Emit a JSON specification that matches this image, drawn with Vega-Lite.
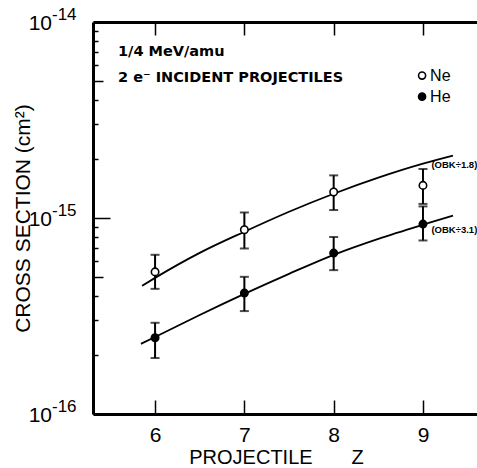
{
  "$schema": "https://vega.github.io/schema/vega-lite/v6.json",
  "autosize": "none",
  "width": 384,
  "height": 392,
  "padding": {"left": 93, "top": 22, "right": 0, "bottom": 54},
  "config": {
    "view": {"stroke": null},
    "font": "Liberation Sans",
    "axis": {"grid": false, "domainColor": "black", "tickColor": "black", "labelColor": "black", "titleColor": "black"}
  },
  "datasets": {
    "curves": [
      {"ion": "Ne", "z": 5.854, "sigma": 4.51e-16},
      {"ion": "Ne", "z": 6.0, "sigma": 4.95e-16},
      {"ion": "Ne", "z": 6.5, "sigma": 6.64e-16},
      {"ion": "Ne", "z": 7.0, "sigma": 8.51e-16},
      {"ion": "Ne", "z": 7.5, "sigma": 1.076e-15},
      {"ion": "Ne", "z": 8.0, "sigma": 1.33e-15},
      {"ion": "Ne", "z": 8.5, "sigma": 1.606e-15},
      {"ion": "Ne", "z": 9.0, "sigma": 1.893e-15},
      {"ion": "Ne", "z": 9.336, "sigma": 2.08e-15},
      {"ion": "He", "z": 5.842, "sigma": 2.28e-16},
      {"ion": "He", "z": 6.0, "sigma": 2.47e-16},
      {"ion": "He", "z": 6.5, "sigma": 3.2e-16},
      {"ion": "He", "z": 7.0, "sigma": 4.1e-16},
      {"ion": "He", "z": 7.5, "sigma": 5.19e-16},
      {"ion": "He", "z": 8.0, "sigma": 6.49e-16},
      {"ion": "He", "z": 8.5, "sigma": 7.83e-16},
      {"ion": "He", "z": 9.0, "sigma": 9.24e-16},
      {"ion": "He", "z": 9.336, "sigma": 1.027e-15}
    ],
    "measured": [
      {"ion": "Ne", "z": 6, "sigma": 5.31e-16, "lo": 4.35e-16, "hi": 6.49e-16},
      {"ion": "Ne", "z": 7, "sigma": 8.71e-16, "lo": 6.99e-16, "hi": 1.067e-15},
      {"ion": "Ne", "z": 8, "sigma": 1.357e-15, "lo": 1.098e-15, "hi": 1.65e-15},
      {"ion": "Ne", "z": 9, "sigma": 1.467e-15, "lo": 1.18e-15, "hi": 1.778e-15},
      {"ion": "He", "z": 6, "sigma": 2.45e-16, "lo": 1.93e-16, "hi": 2.92e-16},
      {"ion": "He", "z": 7, "sigma": 4.14e-16, "lo": 3.35e-16, "hi": 5.01e-16},
      {"ion": "He", "z": 8, "sigma": 6.62e-16, "lo": 5.42e-16, "hi": 8.0e-16},
      {"ion": "He", "z": 9, "sigma": 9.31e-16, "lo": 7.68e-16, "hi": 1.146e-15}
    ],
    "decades": [
      {"z": 5.305, "sigma": 1e-14, "base": "10", "power": "-14"},
      {"z": 5.305, "sigma": 1e-15, "base": "10", "power": "-15"},
      {"z": 5.305, "sigma": 1e-16, "base": "10", "power": "-16"}
    ],
    "key": [
      {"ion": "Ne", "z": 8.99, "sigma": 5.33e-15},
      {"ion": "He", "z": 8.99, "sigma": 4.16e-15}
    ],
    "headings": [
      {"label": "1/4 MeV/amu", "z": 5.585, "sigma": 6.99e-15},
      {"label": "2 e⁻ INCIDENT PROJECTILES", "z": 5.585, "sigma": 5.2e-15}
    ],
    "scaling": [
      {"label": "(OBK÷1.8)", "z": 9.095, "sigma": 1.87e-15},
      {"label": "(OBK÷3.1)", "z": 9.095, "sigma": 8.71e-16}
    ]
  },
  "resolve": {"axis": {"x": "independent", "y": "independent"}},
  "layer": [
    {
      "data": {"name": "curves"},
      "mark": {"type": "line", "interpolate": "monotone", "color": "black", "strokeWidth": 1.8},
      "encoding": {
        "x": {
          "field": "z", "type": "quantitative",
          "scale": {"domain": [5.305, 9.605], "nice": false, "zero": false},
          "axis": {
            "orient": "bottom", "values": [6, 7, 8, 9], "tickSize": -14, "tickWidth": 1.5,
            "domainWidth": 3, "labelFontSize": 21, "labelPadding": 24, "labelFont": "Liberation Sans",
            "title": "PROJECTILE\u00a0\u00a0\u00a0\u00a0\u00a0\u00a0\u00a0Z", "titleFontSize": 20, "titleFontWeight": "normal",
            "titleFont": "Liberation Sans", "titleX": 183, "titleY": 49, "titleAlign": "center", "titleBaseline": "alphabetic"
          }
        },
        "y": {
          "field": "sigma", "type": "quantitative",
          "scale": {"type": "log", "domain": [1e-16, 1e-14], "nice": false},
          "axis": {
            "orient": "left",
            "values": [1e-16, 2e-16, 3e-16, 4e-16, 5e-16, 6e-16, 7e-16, 8e-16, 9e-16, 1e-15, 2e-15, 3e-15, 4e-15, 5e-15, 6e-15, 7e-15, 8e-15, 9e-15, 1e-14],
            "tickSize": {"condition": [
              {"test": "abs(log(datum.value)/LN10 - round(log(datum.value)/LN10)) < 0.001", "value": -17},
              {"test": "abs(datum.value / pow(10, floor(log(datum.value)/LN10 + 0.0001)) - 5) < 0.01", "value": -10}
            ], "value": -5},
            "tickWidth": 1.5, "domainWidth": 3, "labels": false,
            "title": "CROSS SECTION (cm²)", "titleFontSize": 21, "titleFontWeight": "normal",
            "titleFont": "Liberation Sans", "titleX": -70, "titleY": 196, "titleAngle": 270,
            "titleAlign": "center", "titleBaseline": "middle"
          }
        },
        "detail": {"field": "ion"}
      }
    },
    {
      "data": {"name": "measured"},
      "mark": {"type": "rule", "color": "black", "strokeWidth": 2},
      "encoding": {
        "x": {
          "field": "z", "type": "quantitative",
          "scale": {"domain": [5.305, 9.605], "nice": false, "zero": false},
          "axis": {"orient": "top", "values": [6, 7, 8, 9], "tickSize": -13, "tickWidth": 1.5, "domainWidth": 3, "labels": false, "title": null}
        },
        "y": {"field": "lo", "type": "quantitative", "scale": {"type": "log", "domain": [1e-16, 1e-14], "nice": false}, "axis": null},
        "y2": {"field": "hi"}
      }
    },
    {
      "data": {"name": "measured"},
      "mark": {"type": "tick", "orient": "horizontal", "color": "black", "size": 9, "thickness": 2},
      "encoding": {
        "x": {"field": "z", "type": "quantitative", "scale": {"domain": [5.305, 9.605], "nice": false, "zero": false}, "axis": null},
        "y": {"field": "lo", "type": "quantitative", "scale": {"type": "log", "domain": [1e-16, 1e-14], "nice": false}, "axis": null}
      }
    },
    {
      "data": {"name": "measured"},
      "mark": {"type": "tick", "orient": "horizontal", "color": "black", "size": 9, "thickness": 2},
      "encoding": {
        "x": {"field": "z", "type": "quantitative", "scale": {"domain": [5.305, 9.605], "nice": false, "zero": false}, "axis": null},
        "y": {"field": "hi", "type": "quantitative", "scale": {"type": "log", "domain": [1e-16, 1e-14], "nice": false}, "axis": null}
      }
    },
    {
      "data": {"name": "measured"},
      "mark": {"type": "point", "shape": "circle", "size": 55, "stroke": "black", "strokeWidth": 1.6, "opacity": 1},
      "encoding": {
        "x": {"field": "z", "type": "quantitative", "scale": {"domain": [5.305, 9.605], "nice": false, "zero": false}, "axis": null},
        "y": {"field": "sigma", "type": "quantitative", "scale": {"type": "log", "domain": [1e-16, 1e-14], "nice": false}, "axis": null},
        "fill": {"field": "ion", "type": "nominal", "scale": {"domain": ["Ne", "He"], "range": ["white", "black"]}, "legend": null}
      }
    },
    {
      "data": {"name": "decades"},
      "mark": {"type": "text", "align": "right", "baseline": "middle", "dx": -41, "dy": 2, "fontSize": 21, "font": "Liberation Sans", "color": "black", "clip": false},
      "encoding": {
        "x": {"field": "z", "type": "quantitative", "scale": {"domain": [5.305, 9.605], "nice": false, "zero": false}, "axis": null},
        "y": {"field": "sigma", "type": "quantitative", "scale": {"type": "log", "domain": [1e-16, 1e-14], "nice": false}, "axis": null},
        "text": {"field": "base"}
      }
    },
    {
      "data": {"name": "decades"},
      "mark": {"type": "text", "align": "left", "baseline": "middle", "dx": -41, "dy": -7, "fontSize": 17, "font": "Liberation Sans", "color": "black", "clip": false},
      "encoding": {
        "x": {"field": "z", "type": "quantitative", "scale": {"domain": [5.305, 9.605], "nice": false, "zero": false}, "axis": null},
        "y": {"field": "sigma", "type": "quantitative", "scale": {"type": "log", "domain": [1e-16, 1e-14], "nice": false}, "axis": null},
        "text": {"field": "power"}
      }
    },
    {
      "data": {"name": "key"},
      "mark": {"type": "point", "shape": "circle", "size": 50, "stroke": "black", "strokeWidth": 1.6, "opacity": 1},
      "encoding": {
        "x": {"field": "z", "type": "quantitative", "scale": {"domain": [5.305, 9.605], "nice": false, "zero": false}, "axis": null},
        "y": {"field": "sigma", "type": "quantitative", "scale": {"type": "log", "domain": [1e-16, 1e-14], "nice": false}, "axis": null},
        "fill": {"field": "ion", "type": "nominal", "scale": {"domain": ["Ne", "He"], "range": ["white", "black"]}, "legend": null}
      }
    },
    {
      "data": {"name": "key"},
      "mark": {"type": "text", "align": "left", "baseline": "middle", "dx": 8, "fontSize": 16, "font": "Liberation Sans", "color": "black"},
      "encoding": {
        "x": {"field": "z", "type": "quantitative", "scale": {"domain": [5.305, 9.605], "nice": false, "zero": false}, "axis": null},
        "y": {"field": "sigma", "type": "quantitative", "scale": {"type": "log", "domain": [1e-16, 1e-14], "nice": false}, "axis": null},
        "text": {"field": "ion"}
      }
    },
    {
      "data": {"name": "headings"},
      "mark": {"type": "text", "align": "left", "baseline": "middle", "fontSize": 14.5, "fontWeight": "bold", "font": "DejaVu Sans", "color": "black"},
      "encoding": {
        "x": {"field": "z", "type": "quantitative", "scale": {"domain": [5.305, 9.605], "nice": false, "zero": false}, "axis": null},
        "y": {"field": "sigma", "type": "quantitative", "scale": {"type": "log", "domain": [1e-16, 1e-14], "nice": false}, "axis": null},
        "text": {"field": "label"}
      }
    },
    {
      "data": {"name": "scaling"},
      "mark": {"type": "text", "align": "left", "baseline": "middle", "fontSize": 9.5, "fontWeight": "bold", "font": "Liberation Sans", "color": "black"},
      "encoding": {
        "x": {"field": "z", "type": "quantitative", "scale": {"domain": [5.305, 9.605], "nice": false, "zero": false}, "axis": null},
        "y": {"field": "sigma", "type": "quantitative", "scale": {"type": "log", "domain": [1e-16, 1e-14], "nice": false}, "axis": null},
        "text": {"field": "label"}
      }
    }
  ]
}
